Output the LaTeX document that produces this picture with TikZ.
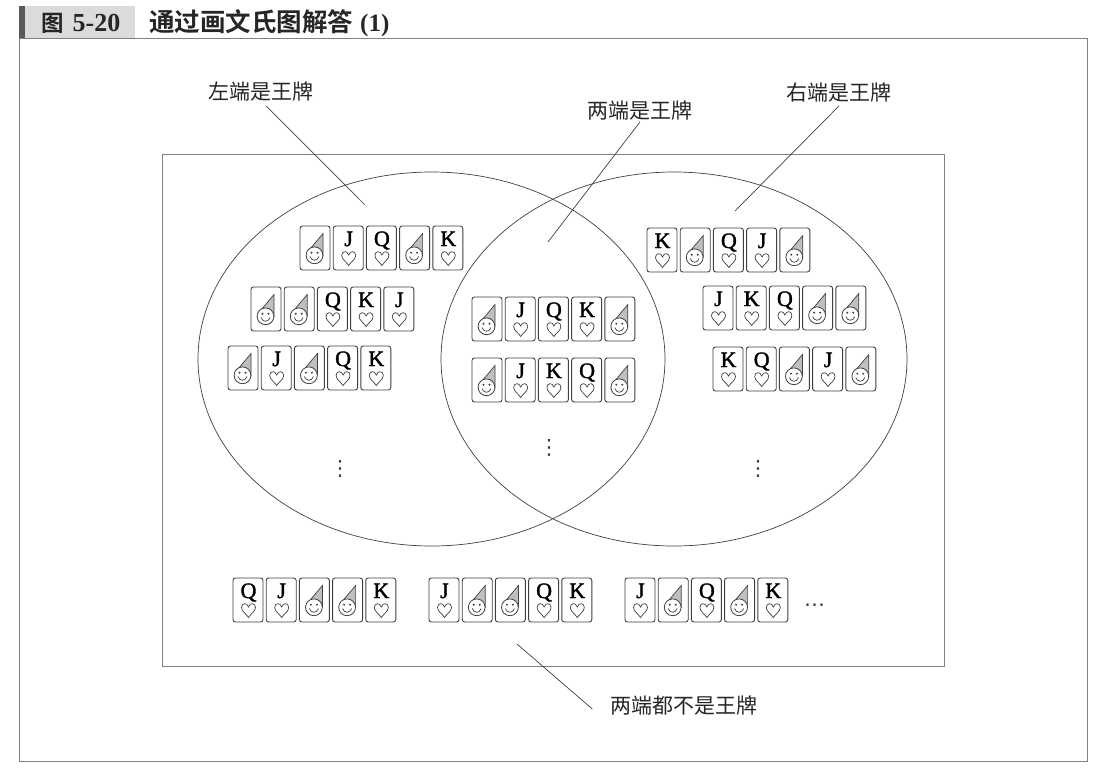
\documentclass[tikz,border=0pt]{standalone}
\usepackage{fontspec}
\setmainfont{Liberation Serif}
\newfontfamily\cjk{Noto Sans CJK SC}
\newfontfamily\cjkb{Noto Sans CJK SC}[BoldFont={Noto Sans CJK SC Bold}]
\newfontfamily\djv{DejaVu Sans}
\newfontfamily\cardf{Liberation Serif}[FakeBold=1.6]
\definecolor{ink}{gray}{0.25}
\tikzset{
  thin line/.style={draw=ink,line width=0.7pt},
  lbl/.style={font=\cjk\fontsize{21}{21}\selectfont,text=black!85,inner sep=1pt},
  cardbox/.style={draw=ink,line width=0.9pt,rounded corners=2.5pt,fill=white},
  cardletter/.style={font=\cardf\fontsize{22}{22}\selectfont,text=black,inner sep=0pt,anchor=base},
  dotsnode/.style={font=\djv\fontsize{21}{21}\selectfont,text=ink,inner sep=0pt},
  pics/heart/.style={code={
    \draw[draw=ink,line width=0.7pt] (0,7) .. controls (-2,3.5) and (-7,1) .. (-7,-3)
      .. controls (-7,-7.5) and (-1.5,-8.5) .. (0,-3.5)
      .. controls (1.5,-8.5) and (7,-7.5) .. (7,-3)
      .. controls (7,1) and (2,3.5) .. (0,7) -- cycle;
  }},
  pics/joker/.style={code={
    \draw[cardbox] (0,0) rectangle (30,44);
    \fill[gray!50,draw=ink,line width=0.7pt] (23,7.5) -- (10,23) -- (23,29.5) -- cycle;
    \draw[draw=ink,line width=0.8pt,fill=white] (14.5,29.3) circle[radius=8.4];
    \fill[ink] (11.5,26.7) circle[radius=1.1] (17.5,26.7) circle[radius=1.1];
    \draw[draw=ink,line width=0.7pt] (10,30.5) .. controls (11.5,35.5) and (17.5,35.5) .. (19,30.5);
  }},
  pics/face/.style={code={
    \draw[cardbox] (0,0) rectangle (30,44);
    \node[cardletter] at (15.5,20) {#1};
    \pic at (15.5,32.5) {heart};
  }},
}
\newcommand{\cardrow}[7]{%
  \foreach \c [count=\i from 0] in {#3,#4,#5,#6,#7}{%
    \pgfmathsetmacro{\cx}{#1+33.2*\i}%
    \if\c X
      \pic at (\cx,#2) {joker};
    \else
      \pic at (\cx,#2) {face=\c};
    \fi
  }%
}
\begin{document}
\begin{tikzpicture}[x=1pt,y=-1pt]
\useasboundingbox (0,0) rectangle (1120,774);
\fill[white] (0,0) rectangle (1120,774);
% header
\fill[gray!28] (25,6) rectangle (135,38);
\fill[gray!70!black] (19,6) rectangle (25,38);
\node[anchor=west,inner sep=0pt,text=black!85] (hnum) at (41,23) {\cjkb\fontsize{22.5}{22.5}\selectfont\bfseries 图\hspace{9pt}{\rmfamily\bfseries\fontsize{26}{26}\selectfont 5-20}};
\node[anchor=west,inner sep=0pt,text=black!85] (htitle) at (149,23) {\cjkb\fontsize{25.5}{25.5}\selectfont\bfseries 通过画文氏图解答\hspace{7pt}{\rmfamily\bfseries\fontsize{25}{25}\selectfont (1)}};
% frames
\draw[draw=gray,line width=1pt] (19,38) rectangle (1087,761);
\draw[draw=gray,line width=1pt] (162,154) rectangle (944,666);
\draw[thin line] (431.5,359) ellipse[x radius=233.5,y radius=187];
\draw[thin line] (674,359) ellipse[x radius=233,y radius=187];
% labels and leader lines
\node[lbl] (lleft) at (261,92) {左端是王牌};
\node[lbl] (lboth) at (640,111) {两端是王牌};
\node[lbl] (lright) at (839,93) {右端是王牌};
\node[lbl] (lnone) at (684,706) {两端都不是王牌};
\coordinate (cleft) at (365,205);
\coordinate (cboth) at (548,242);
\coordinate (cright) at (735,211);
\coordinate (cnone) at (517,644);
\draw[thin line] (lleft.south) ++(5,3) -- (cleft);
\draw[thin line] (lboth.south) -- (cboth);
\draw[thin line] (lright.south) ++(0,2) -- (cright);
\draw[thin line] (lnone.west) ++(-17,3) -- (cnone);
% cards
\cardrow{300}{226}{X}{J}{Q}{X}{K}
\cardrow{251}{287}{X}{X}{Q}{K}{J}
\cardrow{228}{346}{X}{J}{X}{Q}{K}
\cardrow{472}{297}{X}{J}{Q}{K}{X}
\cardrow{472}{358}{X}{J}{K}{Q}{X}
\cardrow{647}{228}{K}{X}{Q}{J}{X}
\cardrow{703}{286}{J}{K}{Q}{X}{X}
\cardrow{713}{347}{K}{Q}{X}{J}{X}
\cardrow{233}{578}{Q}{J}{X}{X}{K}
\cardrow{429}{578}{J}{X}{X}{Q}{K}
\cardrow{625}{578}{J}{X}{Q}{X}{K}
% ellipses of continuation
\node[dotsnode] (d1) at (340,469) {⋮};
\node[dotsnode] (d2) at (549,448) {⋮};
\node[dotsnode] (d3) at (758,469) {⋮};
\node[dotsnode] (d4) at (814.5,605) {…};
\end{tikzpicture}
\end{document}
